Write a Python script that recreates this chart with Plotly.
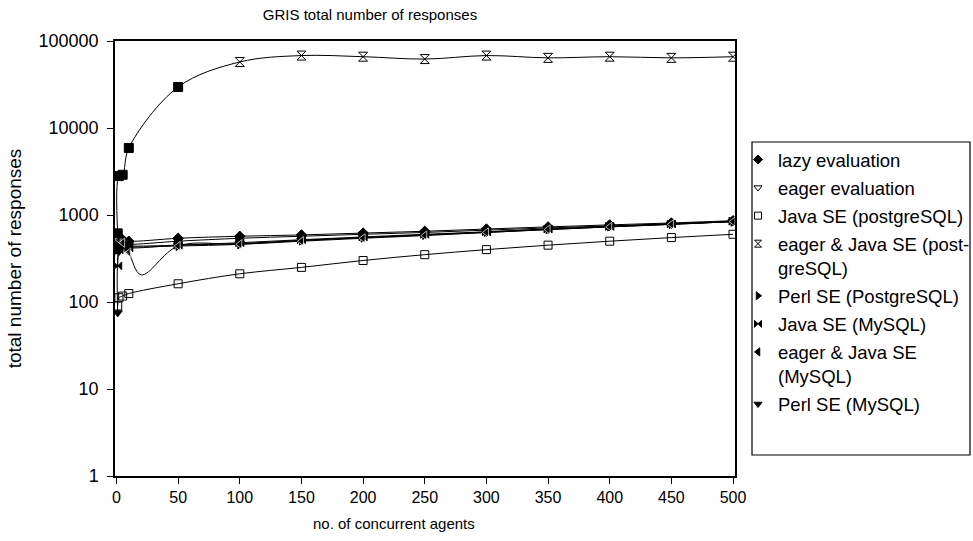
import plotly.graph_objects as go

# ---- data ----
x_all = [1, 2, 5, 10, 50, 100, 150, 200, 250, 300, 350, 400, 450, 500]
x_dip = [1, 2, 5, 10, 20, 50, 100, 150, 200, 250, 300, 350, 400, 450, 500]

lazy_eval = [480, 500, 520, 500, 540, 570, 590, 620, 650, 690, 730, 770, 810, 860]
eager_eval = [440, 460, 470, 460, 500, 540, 570, 600, 630, 670, 710, 750, 790, 840]
java_pg = [90, 112, 117, 125, 162, 211, 250, 300, 350, 400, 450, 500, 550, 600]
eager_java_pg = [615, 2800, 2900, 5900, 29600, 57400, 68000, 66000, 62000, 68000, 64000, 66000, 64000, 66000]
perl_pg = [400, 420, 440, 430, 440, 460, 510, 550, 590, 640, 690, 740, 790, 840]
java_mysql = [260, 400, 440, 420, 450, 480, 520, 560, 600, 640, 690, 740, 790, 850]
eager_java_mysql = [560, 520, 480, 370, 205, 440, 460, 500, 540, 580, 630, 680, 730, 780, 840]
perl_mysql = [75, 380, 450, 440, 450, 470, 510, 550, 590, 630, 680, 730, 780, 840]

x_ticks = [0, 50, 100, 150, 200, 250, 300, 350, 400, 450, 500]
y_ticks = [1, 10, 100, 1000, 10000, 100000]
y_ticktext = ["1", "10", "100", "1000", "10000", "100000"]

legend_names = [
    "lazy evaluation",
    "eager evaluation",
    "Java SE (postgreSQL)",
    "eager & Java SE (post-<br>greSQL)",
    "Perl SE (PostgreSQL)",
    "Java SE (MySQL)",
    "eager & Java SE<br>(MySQL)",
    "Perl SE (MySQL)",
]
legend_symbols = ["diamond", "triangle-down-open", "square-open", "hourglass-open",
                  "triangle-right", "bowtie", "triangle-left", "triangle-down"]

FONT = "Liberation Sans, Arial, Helvetica, sans-serif"
fig = go.Figure()

LINE = dict(color="black", width=1, shape="spline", smoothing=1.0)

series = [
    (x_all, lazy_eval, "diamond"),
    (x_all, eager_eval, "triangle-down-open"),
    (x_all, perl_pg, "triangle-right"),
    (x_all, java_mysql, "bowtie"),
    (x_all, perl_mysql, "triangle-down"),
    (x_all, java_pg, "square-open"),
]
for xs, ys, sym in series:
    fig.add_trace(go.Scatter(
        x=xs, y=ys, mode="lines+markers", line=LINE,
        marker=dict(symbol=sym, size=8, color="black", line=dict(color="black", width=1)),
        showlegend=False, hoverinfo="skip"))

# eager & Java SE (MySQL): curve sample at x=20 drawn without a marker
dip_sizes = [0 if x == 20 else 8 for x in x_dip]
fig.add_trace(go.Scatter(
    x=x_dip, y=eager_java_mysql, mode="lines+markers", line=LINE,
    marker=dict(symbol="triangle-left", size=dip_sizes, color="black"),
    showlegend=False, hoverinfo="skip"))

# eager & Java SE (postgreSQL): filled squares for small x, hourglass for large x
ej_symbols = ["square" if x <= 50 else "hourglass-open" for x in x_all]
fig.add_trace(go.Scatter(
    x=x_all, y=eager_java_pg, mode="lines+markers", line=LINE,
    marker=dict(symbol=ej_symbols, size=9, color="black", line=dict(color="black", width=1)),
    showlegend=False, hoverinfo="skip"))

for i, (name, sym) in enumerate(zip(legend_names, legend_symbols)):
    fig.add_trace(go.Scatter(
        x=[None], y=[None], mode="markers", name=name, legendgroup="g%d" % i,
        marker=dict(symbol=sym, size=7, color="black", line=dict(color="black", width=1))))

# legend frame
fig.add_shape(type="rect", xref="paper", yref="paper",
              x0=(752 - 115) / 620, x1=(970 - 115) / 620,
              y0=(476 - 455) / 435, y1=(476 - 142) / 435,
              line=dict(color="black", width=1.2), fillcolor="rgba(0,0,0,0)")

fig.add_annotation(text="no. of concurrent agents", xref="paper", yref="paper",
                   x=(394 - 115) / 620, y=(476 - 523) / 435, showarrow=False,
                   xanchor="center", yanchor="middle", font=dict(size=15))

fig.update_layout(
    width=973, height=541,
    margin=dict(l=115, r=238, t=41, b=65, autoexpand=False),
    paper_bgcolor="white", plot_bgcolor="white",
    font=dict(family=FONT, size=15, color="black"),
    title=dict(text="GRIS total number of responses", x=370 / 973, xanchor="center",
               y=1 - 15 / 541, yanchor="middle", font=dict(size=15)),
    xaxis=dict(range=[-1.2, 501.6], tickvals=x_ticks, ticks="outside", ticklen=6,
               tickcolor="black", showline=True, linecolor="black", linewidth=1.5,
               mirror=True, showgrid=False, zeroline=False,
               tickfont=dict(size=16)),
    yaxis=dict(type="log", range=[0, 5], tickvals=y_ticks, ticktext=y_ticktext,
               ticks="outside", ticklen=6, tickcolor="black", showline=True,
               linecolor="black", linewidth=1.5, mirror=True, showgrid=False,
               zeroline=False, tickfont=dict(size=18), ticklabelstandoff=5,
               title=dict(text="total number of responses", font=dict(size=19), standoff=12)),
    legend=dict(x=(738 - 115) / 620, y=(476 - 141) / 435, xanchor="left", yanchor="top",
                borderwidth=0, bgcolor="rgba(0,0,0,0)", valign="top",
                font=dict(size=18.5), tracegroupgap=1),
)

fig.write_html("out.html")
